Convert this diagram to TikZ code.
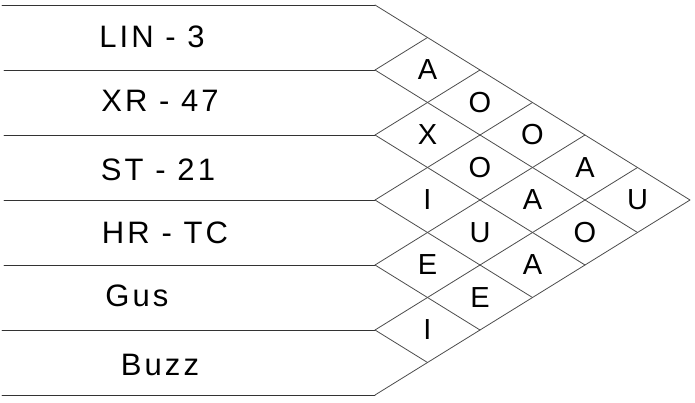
\documentclass[tikz,border=0pt]{standalone}
\usepackage{fontspec}
\setmainfont{Liberation Sans}

\begin{document}
\begin{tikzpicture}[x=1pt,y=-1pt,
  rowline/.style={draw=black!80,line width=.9pt,line cap=round},
  gridline/.style={draw=black!70,line width=.8pt,line cap=round},
  rowlabel/.style={font=\fontsize{31}{31}\selectfont\addfontfeatures{LetterSpace=10},inner sep=0pt},
  code/.style={font=\fontsize{29}{29}\selectfont,inner sep=0pt}]
\useasboundingbox (0,0) rectangle (695,403);
% row boundaries, left ends and right ends
\coordinate (l0) at (2,5);   \coordinate (b0) at (375,5);
\coordinate (l1) at (4,70);  \coordinate (b1) at (375,70);
\coordinate (l2) at (4,135); \coordinate (b2) at (375,135);
\coordinate (l3) at (4,200); \coordinate (b3) at (375,200);
\coordinate (l4) at (4,265); \coordinate (b4) at (375,265);
\coordinate (l5) at (2,330); \coordinate (b5) at (375,330);
\coordinate (l6) at (2,395); \coordinate (b6) at (375,395);
% upper edge of the chart
\coordinate (t1) at (427.5,37.5);
\coordinate (t2) at (480,70);
\coordinate (t3) at (532.5,102.5);
\coordinate (t4) at (585,135);
\coordinate (t5) at (637.5,167.5);
\coordinate (apex) at (690,200);
% lower edge of the chart
\coordinate (d1) at (427.5,362.5);
\coordinate (d2) at (480,330);
\coordinate (d3) at (532.5,297.5);
\coordinate (d4) at (585,265);
\coordinate (d5) at (637.5,232.5);

\draw[rowline] (l0) -- (b0);
\draw[rowline] (l1) -- (b1);
\draw[rowline] (l2) -- (b2);
\draw[rowline] (l3) -- (b3);
\draw[rowline] (l4) -- (b4);
\draw[rowline] (l5) -- (b5);
\draw[rowline] (l6) -- (b6);

\draw[gridline] (b0) -- (apex);
\draw[gridline] (b1) -- (t1);
\draw[gridline] (b1) -- (d5);
\draw[gridline] (b2) -- (t2);
\draw[gridline] (b2) -- (d4);
\draw[gridline] (b3) -- (t3);
\draw[gridline] (b3) -- (d3);
\draw[gridline] (b4) -- (t4);
\draw[gridline] (b4) -- (d2);
\draw[gridline] (b5) -- (t5);
\draw[gridline] (b5) -- (d1);
\draw[gridline] (b6) -- (apex);

\node[rowlabel] (lin3) at (152,37) {LIN - 3};
\node[rowlabel] (xr47) at (160,101) {XR - 47};
\node[rowlabel] (st21) at (158,170) {ST - 21};
\node[rowlabel] (hrtc) at (165,233) {HR - TC};
\node[rowlabel] (gus) at (137,296) {Gus};
\node[rowlabel] (buzz) at (160,365) {Buzz};

\node[code] (c12) at (427.5,70) {A};
\node[code] (c23) at (427.5,135) {X};
\node[code] (c34) at (427.5,200) {I};
\node[code] (c45) at (427.5,265) {E};
\node[code] (c56) at (427.5,330) {I};
\node[code] (c13) at (480,102.5) {O};
\node[code] (c24) at (480,167.5) {O};
\node[code] (c35) at (480,232.5) {U};
\node[code] (c46) at (480,297.5) {E};
\node[code] (c14) at (532.5,135) {O};
\node[code] (c25) at (532.5,200) {A};
\node[code] (c36) at (532.5,265) {A};
\node[code] (c15) at (585,167.5) {A};
\node[code] (c26) at (585,232.5) {O};
\node[code] (c16) at (637.5,200) {U};
\end{tikzpicture}
\end{document}
